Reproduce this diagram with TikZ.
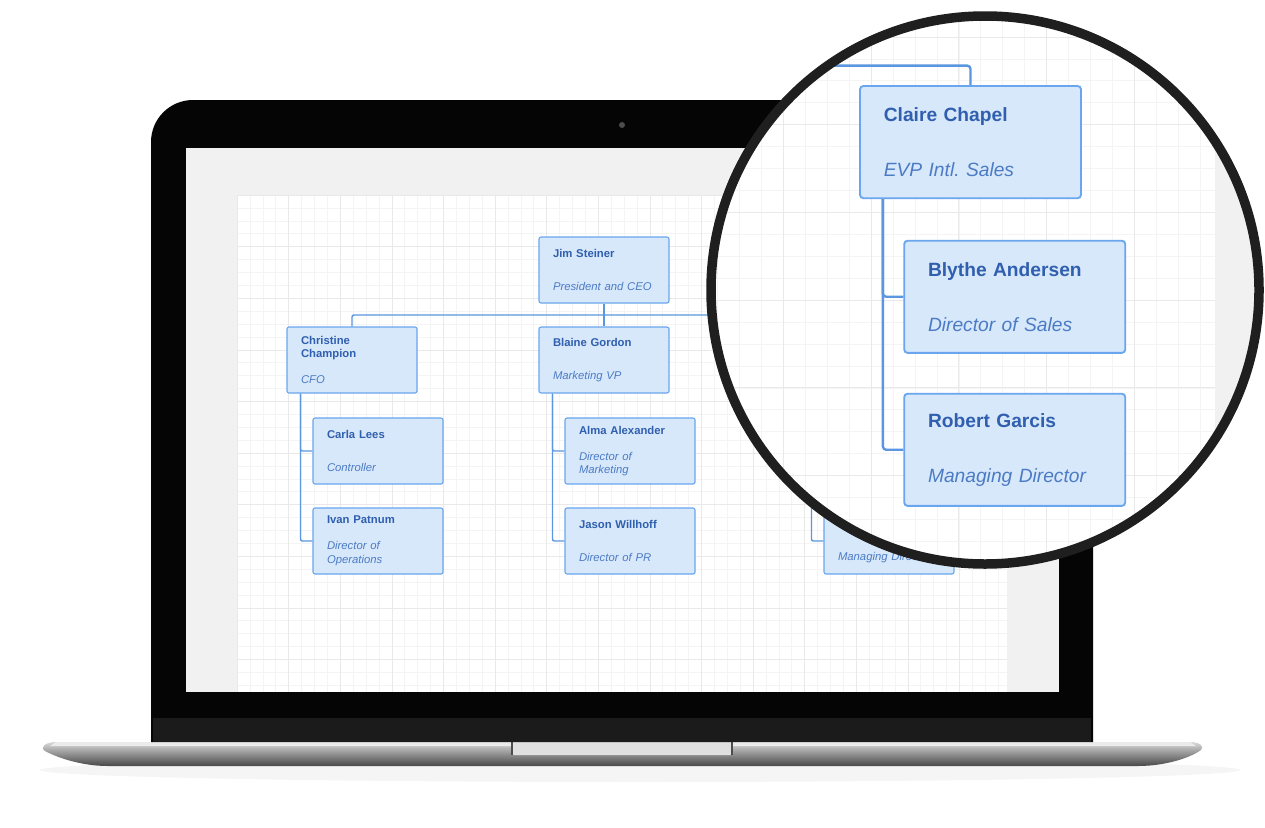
\documentclass[tikz,border=0pt]{standalone}
\usepackage{fontspec}
\setmainfont{Liberation Sans}
\usepackage{tikz}
\usetikzlibrary{calc}
\frenchspacing

% Colours
\definecolor{cardfill}{HTML}{D8E8FB}
\definecolor{cardedge}{HTML}{69A6EE}
\definecolor{linkblue}{HTML}{5A97E0}
\definecolor{nameblue}{HTML}{2F5FAE}
\definecolor{titleblue}{HTML}{4B7BC4}
\definecolor{gridminor}{HTML}{F4F4F4}
\definecolor{gridmajor}{HTML}{E9E9E9}
\definecolor{screengrey}{HTML}{F1F1F1}
\definecolor{lidblack}{HTML}{050505}
\definecolor{chingrey}{HTML}{1B1B1B}
\definecolor{rimgrey}{HTML}{1F1F1F}

% Name in bold, job title in italics below it
\newcommand{\staff}[3][19pt]{\textbf{#2}\\[#1]{\color{titleblue}\itshape #3}}

% Screen: canvas, grid and org chart
\newcommand{\orgchart}{%
    \fill[screengrey] (186,148) rectangle (1059,692);
    \fill[white] (237,195) rectangle (1007,692);
    \foreach \i in {0,...,59}
        \draw[gridline] ({237+12.9*\i},195) -- ({237+12.9*\i},692);
    \foreach \j in {0,...,38}
        \draw[gridline] (237,{195+12.9*\j}) -- (1007,{195+12.9*\j});
    \foreach \i in {0,...,14}
        \draw[gridbold] ({237+51.6*\i},195) -- ({237+51.6*\i},692);
    \foreach \j in {0,...,9}
        \draw[gridbold] (237,{195+51.6*\j}) -- (1007,{195+51.6*\j});

    % Chart nodes
    \node (jim) [card] at (604,270) {\staff{Jim Steiner}{President and CEO}};
        \node (christine) [card] at (352,360) {\staff[12.5pt]{Christine\\Champion}{CFO}};
            \node (carla) [card] at (378,451) {\staff{Carla Lees}{Controller}};
            \node (ivan) [card] at (378,541) {\staff[12.5pt]{Ivan Patnum}{Director of\\Operations}};
        \node (blaine) [card] at (604,360) {\staff{Blaine Gordon}{Marketing VP}};
            \node (alma) [card] at (630,451) {\staff[12.5pt]{Alma Alexander}{Director of\\Marketing}};
            \node (jason) [card] at (630,541) {\staff{Jason Willhoff}{Director of PR}};
        \node (claire) [card] at (863,360) {\staff{Claire Chapel}{EVP Intl. Sales}};
            \node (blythe) [card] at (889,451) {\staff{Blythe Andersen}{Director of Sales}};
            \node (robert) [card] at (889,541) {\staff{Robert Garcis}{Managing Director}};
    \coordinate (bar) at (604,315);

    % Chart links
    \draw[link] (jim) -- (blaine);
    \draw[link] (christine.north) |- (bar) -| (claire.north);
        \draw[link] ([xshift=14pt]christine.south west) |- (carla.west);
        \draw[link] ([xshift=14pt]christine.south west) |- (ivan.west);
        \draw[link] ([xshift=14pt]blaine.south west) |- (alma.west);
        \draw[link] ([xshift=14pt]blaine.south west) |- (jason.west);
        \draw[link] ([xshift=14pt]claire.south west) |- (blythe.west);
        \draw[link] ([xshift=14pt]claire.south west) |- (robert.west);
}

\begin{document}
\begin{tikzpicture}[x=1pt, y=-1pt]

    % Chart boxes and links
    \tikzset{card/.style={draw=cardedge, fill=cardfill, line width=1.1pt, rounded corners=2pt,
        minimum width=130pt, minimum height=66pt, inner xsep=14pt, text width=102pt,
        align=left, text=nameblue, font=\fontsize{11.3}{13.5}\selectfont}}
    \tikzset{link/.style={draw=linkblue, line width=1.4pt, rounded corners=2pt}}
    \tikzset{gridline/.style={draw=gridminor, line width=0.5pt}}
    \tikzset{gridbold/.style={draw=gridmajor, line width=0.6pt}}

    % Laptop parts
    \tikzset{basemetal/.style={top color=black!15, middle color=black!48, bottom color=black!72}}
    \tikzset{hinge/.style={fill=black!12}}
    \tikzset{lensrim/.style={draw=rimgrey, line width=9.5pt}}

    \useasboundingbox (0,0) rectangle (1265,827);
    \fill[white] (0,0) rectangle (1265,827);

    % Shadow under the base
    \fill[black, opacity=0.04] (640,770) ellipse[x radius=600, y radius=12];

    % Base
    \shade[basemetal] (56,742) -- (1190,742) .. controls (1199,742) and (1205,746) .. (1201,750)
        .. controls (1190,758) and (1165,766) .. (1138,766) -- (108,766)
        .. controls (82,766) and (58,758) .. (45,751) .. controls (39,747) and (46,742) .. (56,742) -- cycle;
    \fill[black!8] (56,742) -- (1190,742) -- (1196,746) -- (50,746) -- cycle;
    \fill[hinge, rounded corners=2pt] (512,740) rectangle (732,755);
    \draw[black!70, line width=1.2pt] (512,742) -- (512,755);
    \draw[black!70, line width=1.2pt] (732,742) -- (732,755);

    % Lid and bezel
    \fill[lidblack] (151,742) [rounded corners=42pt] -- (151,100) -- (1093,100) [sharp corners] -- (1093,742) -- cycle;
    \fill[chingrey] (153,718) rectangle (1091,742);
    \fill[black!70] (622,125) circle[radius=3];

    % Screen
    \orgchart

    % Magnifier
    \fill[white] (985,290) circle[radius=274];
    \begin{scope}
        \clip (985,290) circle[radius=274];
        \begin{scope}[name prefix=z-, transform canvas={shift={(-496.6,-469.9)}, scale=1.7}]
            \orgchart
        \end{scope}
    \end{scope}
    \draw[lensrim] (985,290) circle[radius=274];

\end{tikzpicture}
\end{document}
